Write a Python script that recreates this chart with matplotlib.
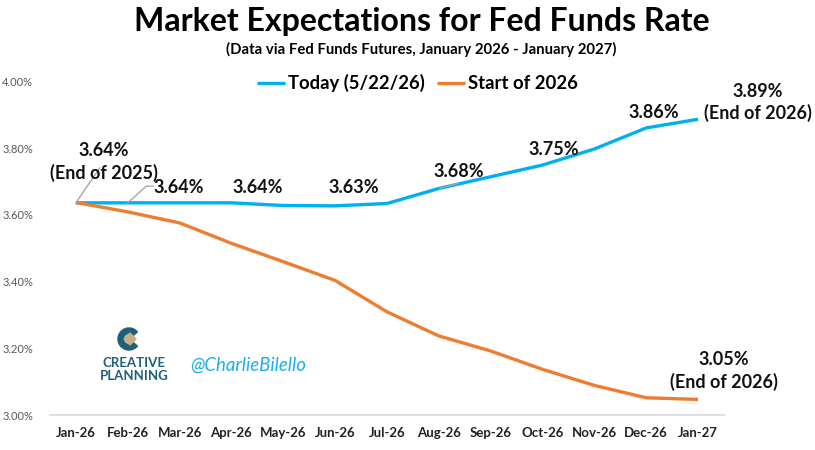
import matplotlib.pyplot as plt
from matplotlib.patches import Wedge, Polygon
import numpy as np

# monthly expectations (in %)
months = ['Jan-26', 'Feb-26', 'Mar-26', 'Apr-26', 'May-26', 'Jun-26', 'Jul-26',
          'Aug-26', 'Sep-26', 'Oct-26', 'Nov-26', 'Dec-26', 'Jan-27']
today = [3.636, 3.636, 3.636, 3.636, 3.628, 3.627, 3.634,
         3.679, 3.714, 3.749, 3.797, 3.860, 3.886]
start_2026 = [3.637, 3.609, 3.576, 3.515, 3.460, 3.404, 3.310,
              3.238, 3.193, 3.138, 3.090, 3.053, 3.048]

yticks = [3.0, 3.2, 3.4, 3.6, 3.8, 4.0]

BLUE = '#00B0F0'
ORANGE = '#ED7D31'
FONT = 'Lato'

plt.rcParams['font.family'] = [FONT, 'DejaVu Sans']

fig = plt.figure(figsize=(8.15, 4.5), dpi=100)
ax = fig.add_axes([0.0613, 0.0767, 0.827, 0.743])

x = np.arange(len(months))
ax.plot(x, today, color=BLUE, lw=2.4, label='Today (5/22/26)', solid_capstyle='butt')
ax.plot(x, start_2026, color=ORANGE, lw=2.4, label='Start of 2026', solid_capstyle='butt')

ax.set_xlim(-0.5, len(months) - 0.5)
ax.set_ylim(3.0, 4.0)
ax.set_xticks(x)
ax.set_xticklabels(months, fontsize=9.5, fontweight='bold', color='#222222')
ax.set_yticks(yticks)
ax.set_yticklabels([f'{v:.2f}%' for v in yticks], fontsize=8, color='#595959')
ax.tick_params(axis='both', length=0)
ax.tick_params(axis='x', pad=8)
ax.tick_params(axis='y', pad=12)
for s in ['top', 'right', 'left']:
    ax.spines[s].set_visible(False)
ax.spines['bottom'].set_color('#D9D9D9')
ax.spines['bottom'].set_linewidth(1.2)

# data labels
lab = dict(fontsize=13, fontweight='bold', ha='center', va='center', color='#111111')
lead = dict(color='#A6A6A6', lw=1.0)

ax.text(0.54, 3.759, f'{today[0]:.2f}%\n(End of 2025)', linespacing=1.3, **lab)
ax.plot([0, 0.46], [today[0], 3.74], **lead)
ax.text(1.99, 3.681, f'{today[1]:.2f}%', **lab)
ax.plot([1, 1.36, 1.49], [today[1], 3.686, 3.686], **lead)
ax.text(3.51, 3.681, f'{today[3]:.2f}%', **lab)
ax.text(5.36, 3.681, f'{today[5]:.2f}%', **lab)
ax.text(7.39, 3.729, f'{today[7]:.2f}%', **lab)
ax.plot([7.02, 7.37], [3.680, 3.694], **lead)
ax.text(9.22, 3.797, f'{today[9]:.2f}%', **lab)
ax.text(11.15, 3.905, f'{today[11]:.2f}%', **lab)
ax.text(13.16, 3.936, f'{today[12]:.2f}%\n(End of 2026)', linespacing=1.3, clip_on=False, **lab)
ax.text(12.50, 3.133, f'{start_2026[12]:.2f}%\n(End of 2026)', linespacing=1.3, clip_on=False, **lab)

leg = ax.legend(loc='center', bbox_to_anchor=(0.545, 0.994), ncol=2, frameon=False,
                handlelength=1.5, handletextpad=0.15, columnspacing=0.7,
                prop={'family': FONT, 'weight': 'bold', 'size': 13.3})

# titles
fig.text(0.517, 0.953, 'Market Expectations for Fed Funds Rate', ha='center', va='center',
         fontsize=23, fontweight='bold', color='black')
fig.text(0.517, 0.891, '(Data via Fed Funds Futures, January 2026 - January 2027)',
         ha='center', va='center', fontsize=10.7, fontweight='bold', color='black')

# logo
lax = fig.add_axes([0, 0, 1, 1], facecolor='none')
lax.set_xlim(0, 815)
lax.set_ylim(450, 0)
lax.axis('off')
cx, cy = 129, 339
lax.add_patch(Wedge((cx, cy), 11, 40, 320, width=5.5, color='#1F5F7A'))
lax.add_patch(Polygon([[cx - 5, cy], [cx + 1, cy - 6], [cx + 7, cy], [cx + 1, cy + 6]],
                      closed=True, color='#C4AE86'))
lax.text(134, 363, 'CREATIVE', ha='center', va='center', fontsize=9.5, fontweight='bold',
         color='#1F5F7A', family=FONT)
lax.text(134, 376, 'PLANNING', ha='center', va='center', fontsize=9.5, fontweight='bold',
         color='#1F5F7A', family=FONT)
lax.text(248, 365, '@CharlieBilello', ha='center', va='center', fontsize=13.4, style='italic',
         color='#1AB0EA', family=FONT)

fig.savefig('out.png', dpi=100)
